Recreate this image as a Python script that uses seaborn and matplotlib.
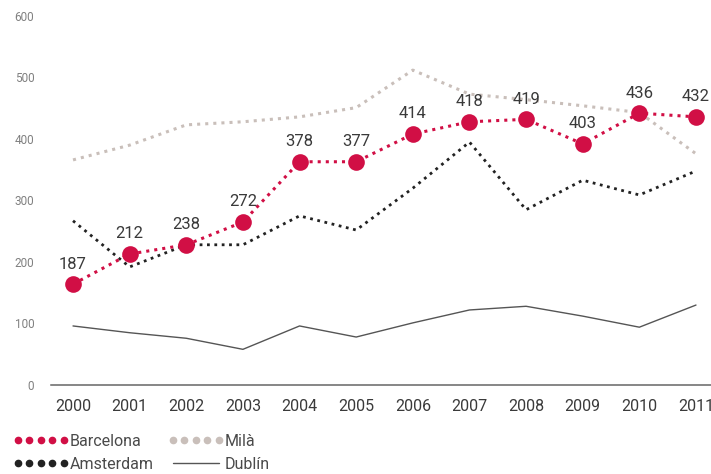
import matplotlib
matplotlib.use("Agg")
import matplotlib.pyplot as plt
from matplotlib.lines import Line2D
from matplotlib.legend_handler import HandlerLine2D
import seaborn as sns
import pandas as pd

years = [2000, 2001, 2002, 2003, 2004, 2005, 2006, 2007, 2008, 2009, 2010, 2011]
barcelona = [164, 213, 228, 265, 363, 363, 408, 428, 432, 392, 442, 436]
barcelona_labels = ["187", "212", "238", "272", "378", "377", "414", "418", "419", "403", "436", "432"]
mila = [366, 390, 423, 428, 436, 451, 512, 473, 464, 454, 443, 376]
amsterdam = [267, 192, 228, 228, 275, 252, 320, 395, 285, 333, 309, 348]
dublin = [96, 85, 76, 58, 96, 78, 101, 122, 128, 112, 94, 130]
yticks = [0, 100, 200, 300, 400, 500, 600]

RED = "#D10F45"
MILA = "#C9BFBA"
AMS = "#222222"
DUB = "#555555"

sns.set_style("white")
plt.rcParams["font.family"] = ["Roboto", "DejaVu Sans"]

fig = plt.figure(figsize=(7.11, 4.74), dpi=100)
ax = fig.add_axes([51 / 711, 1 - 385 / 474, 1 - 51 / 711, (385 - 16) / 474])

df = pd.DataFrame({"year": years, "Barcelona": barcelona, "Milà": mila,
                   "Amsterdam": amsterdam, "Dublín": dublin})

sns.lineplot(data=df, x="year", y="Dublín", ax=ax, color=DUB, linewidth=1.0, zorder=2)
sns.lineplot(data=df, x="year", y="Milà", ax=ax, color=MILA, linewidth=2.2,
             linestyle=":", zorder=2)
sns.lineplot(data=df, x="year", y="Amsterdam", ax=ax, color=AMS, linewidth=2.0,
             linestyle=":", zorder=3)
sns.lineplot(data=df, x="year", y="Barcelona", ax=ax, color=RED, linewidth=2.2,
             linestyle=":", marker="o", markersize=12, markeredgewidth=0, zorder=4)

for x, y, lab in zip(years, barcelona, barcelona_labels):
    ax.annotate(lab, (x, y), xytext=(0, 14.5), textcoords="offset points",
                ha="center", va="center", fontsize=12, color="#3a3a3a", zorder=5)

ax.set_xlim(2000 - 22 / 56.6, 2011 + 15 / 56.6)
ax.set_ylim(0, 600)
ax.set_xticks(years)
ax.set_xticklabels([str(y) for y in years])
ax.set_yticks(yticks)
ax.set_yticklabels([str(v) for v in yticks])
ax.set_xlabel("")
ax.set_ylabel("")
ax.tick_params(axis="x", length=0, pad=10, labelsize=11.5, labelcolor="#3a3a3a")
ax.tick_params(axis="y", length=0, pad=12, labelsize=8.5, labelcolor="#808080")
for s in ["top", "right", "left"]:
    ax.spines[s].set_visible(False)
ax.spines["bottom"].set_color("#666666")
ax.spines["bottom"].set_linewidth(1.1)

h_bcn = Line2D([], [], linestyle="", marker="o", markersize=4.5, color=RED)
h_ams = Line2D([], [], linestyle="", marker="o", markersize=4.5, color=AMS)
h_mila = Line2D([], [], linestyle="", marker="o", markersize=4.5, color=MILA)
h_dub = Line2D([], [], linestyle="-", linewidth=1.0, color=DUB)
hm = HandlerLine2D(marker_pad=0.0, numpoints=5)
leg = fig.legend([h_bcn, h_ams, h_mila, h_dub], ["Barcelona", "Amsterdam", "Milà", "Dublín"],
                 ncol=2, loc="upper left", bbox_to_anchor=(17.5 / 711, 1 - 434 / 474),
                 bbox_transform=fig.transFigure, frameon=False, borderpad=0,
                 borderaxespad=0, fontsize=11.5, handlelength=2.9, handletextpad=0.35,
                 labelspacing=0.5, columnspacing=1.2,
                 handler_map={h_bcn: hm, h_ams: hm, h_mila: hm})
for t in leg.get_texts():
    t.set_color("#4a4a4a")

fig.savefig("out.png", dpi=100)
